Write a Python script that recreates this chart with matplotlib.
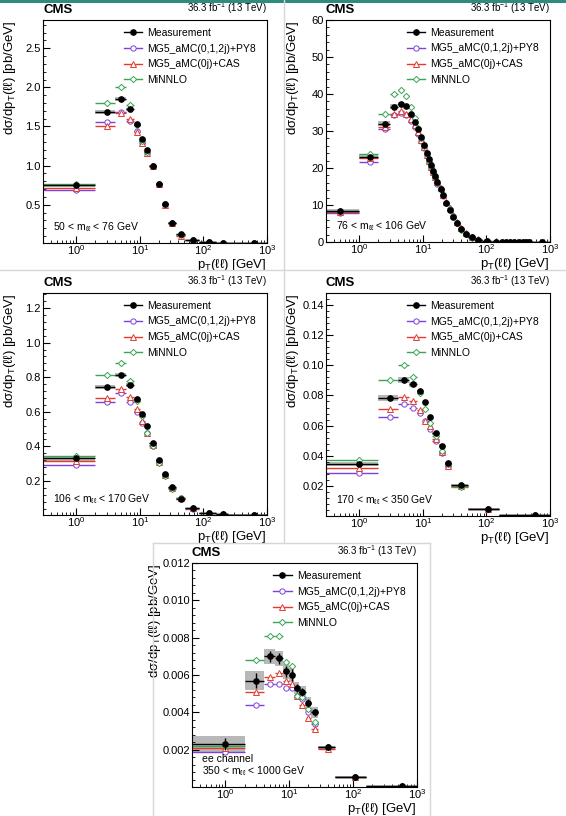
import numpy as np
import matplotlib
matplotlib.use('Agg')
from matplotlib import pyplot as plt
import matplotlib.ticker as mtick
from matplotlib.lines import Line2D
from matplotlib.patches import Rectangle

plt.rcParams['font.family'] = ['Liberation Sans', 'DejaVu Sans']
plt.rcParams['mathtext.fontset'] = 'custom'
plt.rcParams['mathtext.rm'] = 'Liberation Sans'

# --- данные: границы бинов и значения dσ/dpT ---
edges_50_76 = [0, 2, 4, 6, 8, 10, 12, 14, 18, 22, 28, 37, 52, 85, 160, 240, 1000]
meas_50_76 = [0.75, 1.69, 1.85, 1.72, 1.53, 1.34, 1.20, 1.00, 0.77, 0.51, 0.27, 0.128, 0.05, 0.025, 0.018, 0.015]
syst_50_76 = [0.02, 0.025, 0.025, 0.02, 0.015, 0.015, 0.012, 0.01, 0.008, 0.006, 0.004, 0.003, 0.002, 0.001, 0.001, 0.001]
stat_50_76 = [0.03, 0.02, 0.015, 0.02, 0.02, 0.025, 0.02, 0.015, 0.01, 0.008, 0.01, 0.015, 0.01, 0.005, 0.003, 0.002]
mg5_50_76 = [0.69, 1.56, 1.69, 1.57, 1.44, 1.29, 1.16, 0.99, 0.76, 0.51, 0.27, 0.115, 0.05, 0.022, 0.016, 0.014]
cas_50_76 = [0.72, 1.51, 1.67, 1.59, 1.43, 1.29, 1.16, 0.99, 0.76, 0.50, 0.27, 0.105, 0.045, 0.02, 0.015, 0.014]
minnlo_50_76 = [0.76, 1.80, 2.01, 1.78, 1.52, 1.32, 1.17, 1.00, 0.765, 0.505, 0.265, 0.12, 0.05, 0.022, 0.016, 0.014]

edges_76_106 = [0, 1, 2, 3, 4, 5, 6, 7, 8, 9, 10, 11, 12, 13, 14, 15, 16, 18, 20, 22, 25, 28, 32, 37,
                43, 52, 65, 85, 120, 160, 190, 220, 250, 300, 350, 400, 450, 500, 1000]
meas_76_106 = [8.5, 23.1, 32.0, 36.6, 37.4, 36.7, 34.7, 32.5, 30.6, 28.3, 26.1, 24.0, 22.4, 20.7, 19.2, 17.8,
               16.2, 14.4, 12.6, 10.6, 8.7, 6.8, 5.1, 3.4, 2.2, 1.3, 0.65, 0.30, 0.13, 0.07, 0.045, 0.03,
               0.02, 0.012, 0.008, 0.005, 0.004, 0.002]
syst_76_106 = [0.4, 0.6, 0.7, 0.6, 0.5, 0.5, 0.5, 0.4, 0.4, 0.4, 0.35, 0.3, 0.3, 0.3, 0.3, 0.25, 0.2, 0.2,
               0.2, 0.15, 0.12, 0.1, 0.08, 0.06, 0.04, 0.03, 0.02, 0.01, 0.005, 0.003, 0.002, 0.002,
               0.001, 0.001, 0.001, 0.001, 0.001, 0.0005]
stat_76_106 = [0.1, 0.15, 0.15, 0.15, 0.15, 0.15, 0.15, 0.15, 0.15, 0.15, 0.15, 0.1, 0.1, 0.1, 0.1, 0.1, 0.1,
               0.08, 0.08, 0.08, 0.06, 0.06, 0.05, 0.04, 0.03, 0.02, 0.01, 0.005, 0.003, 0.002, 0.002,
               0.001, 0.001, 0.001, 0.001, 0.001, 0.001, 0.0005]
mg5_76_106 = [7.9, 21.6, 30.5, 34.3, 35.0, 34.2, 32.7, 31.0, 29.2, 27.3, 25.3, 23.4, 21.7, 20.1, 18.7, 17.3,
              15.8, 14.2, 12.5, 10.6, 8.8, 6.9, 5.2, 3.4, 2.2, 1.25, 0.62, 0.28, 0.12, 0.065, 0.04, 0.028,
              0.018, 0.011, 0.007, 0.005, 0.003, 0.002]
cas_76_106 = [8.1, 22.6, 31.0, 34.6, 35.4, 34.6, 33.3, 31.6, 29.7, 27.7, 25.6, 23.6, 21.9, 20.3, 18.9, 17.5,
              16.1, 14.5, 12.8, 10.9, 9.1, 7.2, 5.5, 3.7, 2.4, 1.4, 0.72, 0.33, 0.14, 0.07, 0.045, 0.03,
              0.02, 0.012, 0.007, 0.005, 0.003, 0.002]
minnlo_76_106 = [8.3, 23.8, 34.5, 40.0, 41.0, 39.4, 36.6, 33.5, 30.8, 28.2, 25.9, 23.8, 22.0, 20.4, 18.9, 17.5,
                 16.0, 14.3, 12.6, 10.6, 8.8, 6.9, 5.1, 3.3, 2.1, 1.2, 0.6, 0.28, 0.12, 0.06, 0.04, 0.028,
                 0.018, 0.011, 0.007, 0.005, 0.003, 0.002]

edges_106_170 = [0, 2, 4, 6, 8, 10, 12, 14, 18, 22, 28, 37, 52, 85, 160, 240, 1000]
meas_106_170 = [0.33, 0.742, 0.814, 0.756, 0.672, 0.59, 0.518, 0.417, 0.324, 0.24, 0.164, 0.097, 0.044, 0.014, 0.008, 0.005]
syst_106_170 = [0.015, 0.012, 0.012, 0.01, 0.008, 0.007, 0.006, 0.005, 0.004, 0.003, 0.003, 0.002, 0.002, 0.001, 0.001, 0.001]
stat_106_170 = [0.012, 0.008, 0.008, 0.008, 0.008, 0.008, 0.007, 0.006, 0.006, 0.005, 0.005, 0.004, 0.003, 0.002, 0.001, 0.001]
mg5_106_170 = [0.294, 0.654, 0.709, 0.658, 0.600, 0.535, 0.479, 0.40, 0.31, 0.232, 0.16, 0.10, 0.04, 0.012, 0.007, 0.005]
cas_106_170 = [0.316, 0.68, 0.734, 0.683, 0.616, 0.548, 0.479, 0.405, 0.31, 0.235, 0.16, 0.10, 0.041, 0.012, 0.007, 0.005]
minnlo_106_170 = [0.346, 0.814, 0.884, 0.78, 0.665, 0.574, 0.479, 0.40, 0.305, 0.228, 0.155, 0.10, 0.042, 0.012, 0.007, 0.005]

edges_170_350 = [0, 2, 4, 6, 8, 10, 12, 14, 18, 22, 28, 52, 160, 1000]
meas_170_350 = [0.0345, 0.078, 0.0905, 0.0873, 0.0827, 0.0757, 0.0655, 0.055, 0.0467, 0.0351, 0.0205, 0.0048, 0.0004]
syst_170_350 = [0.0015, 0.002, 0.002, 0.0015, 0.001, 0.001, 0.001, 0.001, 0.0008, 0.0007, 0.0005, 0.0002, 0.0001]
stat_170_350 = [0.0012, 0.0012, 0.0012, 0.0012, 0.0012, 0.0012, 0.0012, 0.001, 0.001, 0.0008, 0.0004, 0.0002, 0.0001]
mg5_170_350 = [0.0285, 0.0655, 0.0745, 0.0718, 0.0683, 0.0632, 0.0578, 0.050, 0.042, 0.033, 0.0198, 0.0047, 0.0004]
cas_170_350 = [0.0316, 0.0711, 0.079, 0.0762, 0.0705, 0.0632, 0.0600, 0.0508, 0.0425, 0.0335, 0.0200, 0.0046, 0.0004]
minnlo_170_350 = [0.037, 0.0905, 0.1005, 0.092, 0.0815, 0.071, 0.062, 0.053, 0.0432, 0.0342, 0.0195, 0.0047, 0.0004]

edges_350_1000 = [0, 2, 4, 6, 8, 10, 12, 14, 18, 22, 28, 52, 160, 1000]
meas_350_1000 = [0.0023, 0.0057, 0.0070, 0.0069, 0.0062, 0.0060, 0.0053, 0.0051, 0.0045, 0.0040, 0.00212, 0.00055, 0.00005]
syst_350_1000 = [0.00045, 0.0005, 0.0004, 0.0004, 0.0004, 0.0004, 0.0003, 0.0003, 0.0003, 0.0003, 0.00008, 0.00003, 0.00001]
stat_350_1000 = [0.0003, 0.0004, 0.0003, 0.0003, 0.0003, 0.0003, 0.0002, 0.0002, 0.0002, 0.0002, 0.00005, 0.00003, 0.00001]
mg5_350_1000 = [0.0019, 0.0044, 0.00553, 0.00553, 0.00533, 0.0053, 0.0049, 0.0047, 0.0040, 0.0034, 0.00215, 0.00055, 0.00005]
cas_350_1000 = [0.0021, 0.0051, 0.0059, 0.0061, 0.0057, 0.0055, 0.0049, 0.0044, 0.0037, 0.0031, 0.00205, 0.00055, 0.00005]
minnlo_350_1000 = [0.0022, 0.0068, 0.0081, 0.0081, 0.0067, 0.0065, 0.0049, 0.0048, 0.0042, 0.0035, 0.00215, 0.00055, 0.00005]

labels = ['Measurement', 'MG5_aMC(0,1,2j)+PY8', 'MG5_aMC(0j)+CAS', 'MiNNLO']
mass_labels = ['50 < m$\\mathregular{_{ℓℓ}}$ < 76 GeV', '76 < m$\\mathregular{_{ℓℓ}}$ < 106 GeV',
               '106 < m$\\mathregular{_{ℓℓ}}$ < 170 GeV', '170 < m$\\mathregular{_{ℓℓ}}$ < 350 GeV',
               'ee channel\n350 < m$\\mathregular{_{ℓℓ}}$ < 1000 GeV']
yticks_list = [[0.5, 1.0, 1.5, 2.0, 2.5], [0, 10, 20, 30, 40, 50, 60], [0.2, 0.4, 0.6, 0.8, 1.0, 1.2],
               [0.02, 0.04, 0.06, 0.08, 0.10, 0.12, 0.14], [0.002, 0.004, 0.006, 0.008, 0.010, 0.012]]

c_mg5 = '#7f3fdf'
c_cas = '#e53b2f'
c_min = '#3aa655'

W, H = 566., 816.
fig = plt.figure(figsize=(W / 100., H / 100.), dpi=100)

def px_axes(left, top, right, bottom):
    return fig.add_axes([left / W, 1 - bottom / H, (right - left) / W, (bottom - top) / H])

def draw(ax, edges, meas, stat, syst, mg5, cas, mnl):
    edges = np.array(edges, dtype=float)
    lo = np.where(edges[:-1] > 0, edges[:-1], 1e-2)
    hi = edges[1:]
    x = 0.5 * (edges[:-1] + edges[1:])
    meas = np.array(meas); syst = np.array(syst)
    ax.bar(lo, 2 * syst, width=hi - lo, bottom=meas - syst, align='edge', color='#b8b8b8', lw=0, zorder=1)
    xe = [x - lo, hi - x]
    for vals, col, mk in [(mg5, c_mg5, 'o'), (cas, c_cas, '^'), (mnl, c_min, 'D')]:
        ax.errorbar(x, vals, xerr=xe, fmt=mk, color=col, mfc='white', mec=col, ms=3.8 if mk != 'D' else 3.2,
                    mew=0.7, lw=1.0, capsize=0, zorder=2)
    ax.errorbar(x, meas, xerr=xe, yerr=stat, fmt='o', color='black', ms=3.8, lw=1.0, capsize=0, zorder=3)

panels = [
    (px_axes(43, 20, 267, 243), edges_50_76, meas_50_76, stat_50_76, syst_50_76, mg5_50_76, cas_50_76, minnlo_50_76, (0.012, 2.86), '%.1f', -0.11, -0.064),
    (px_axes(326, 20, 550, 242), edges_76_106, meas_76_106, stat_76_106, syst_76_106, mg5_76_106, cas_76_106, minnlo_76_106, (0, 60), '%d', -0.11, -0.064),
    (px_axes(43, 293, 267, 515), edges_106_170, meas_106_170, stat_106_170, syst_106_170, mg5_106_170, cas_106_170, minnlo_106_170, (0.003, 1.287), '%.1f', -0.11, -0.064),
    (px_axes(326, 293, 550, 516), edges_170_350, meas_170_350, stat_170_350, syst_170_350, mg5_170_350, cas_170_350, minnlo_170_350, (0.0, 0.148), '%.2f', -0.11, -0.064),
    (px_axes(192, 563, 417, 787), edges_350_1000, meas_350_1000, stat_350_1000, syst_350_1000, mg5_350_1000, cas_350_1000, minnlo_350_1000, (0.0, 0.012), '%.3f', -0.13, -0.062),
]

handles = [Line2D([], [], color='black', marker='o', ms=3.8, lw=1.0),
           Line2D([], [], color=c_mg5, marker='o', mfc='white', ms=3.8, mew=0.7, lw=1.0),
           Line2D([], [], color=c_cas, marker='^', mfc='white', ms=3.8, mew=0.7, lw=1.0),
           Line2D([], [], color=c_min, marker='D', mfc='white', ms=3.2, mew=0.7, lw=1.0)]

for i, (ax, ed, me, st, sy, m5, ca, mn, ylim, fmt, ylx, xly) in enumerate(panels):
    draw(ax, ed, me, st, sy, m5, ca, mn)
    ax.set_xscale('log')
    ax.set_xlim(0.3, 1000)
    ax.set_ylim(*ylim)
    ax.yaxis.set_major_locator(mtick.FixedLocator(yticks_list[i]))
    ax.yaxis.set_major_formatter(mtick.FormatStrFormatter(fmt))
    ax.yaxis.set_minor_locator(mtick.AutoMinorLocator(5))
    ax.xaxis.set_major_locator(mtick.LogLocator(base=10, numticks=10))
    ax.xaxis.set_minor_locator(mtick.LogLocator(base=10, subs=np.arange(2, 10), numticks=20))
    ax.xaxis.set_minor_formatter(mtick.NullFormatter())
    ax.tick_params(which='both', direction='in', labelsize=8, pad=1.5)
    ax.tick_params(axis='x', pad=0.5)
    ax.tick_params(which='major', length=5)
    ax.tick_params(which='minor', length=2.5)
    for s in ax.spines.values():
        s.set_linewidth(0.8)
    ax.set_ylabel('dσ/dp$\\mathregular{_T}$(ℓℓ) [pb/GeV]', fontsize=9.5, loc='top')
    ax.yaxis.set_label_coords(ylx, 1.0)
    ax.set_xlabel('p$\\mathregular{_T}$(ℓℓ) [GeV]', fontsize=9.5, loc='right')
    ax.xaxis.set_label_coords(1.0, xly)
    ax.text(0.0, 1.02, 'CMS', transform=ax.transAxes, fontsize=9.5, fontweight='bold', ha='left', va='bottom')
    ax.text(1.0, 1.02, '36.3 fb$\\mathregular{^{-1}}$ (13 TeV)', transform=ax.transAxes, fontsize=7, ha='right', va='bottom')
    ax.text(0.045, 0.04, mass_labels[i], transform=ax.transAxes, fontsize=7.5, ha='left', va='bottom', linespacing=1.0)
    ax.legend(handles, labels, loc='upper left', bbox_to_anchor=(0.36, 0.965), frameon=False, fontsize=7.5,
              handlelength=1.8, handletextpad=0.5, labelspacing=0.55, borderpad=0, borderaxespad=0)

# рамки панелей
def fig_line(x0, y0, x1, y1, col='#d6d6d6', lw=1.0):
    fig.add_artist(Line2D([x0 / W, x1 / W], [1 - y0 / H, 1 - y1 / H], transform=fig.transFigure, color=col, lw=lw))

fig_line(284, 0, 284, 543)
fig_line(0, 270, 566, 270)
fig_line(153, 543, 430, 543)
fig_line(153, 543, 153, 816)
fig_line(430, 543, 430, 816)
fig.add_artist(Rectangle((0, 1 - 3 / H), 1, 3 / H, transform=fig.transFigure, color='#2e8b80', lw=0))

fig.savefig('out.png', dpi=100)
